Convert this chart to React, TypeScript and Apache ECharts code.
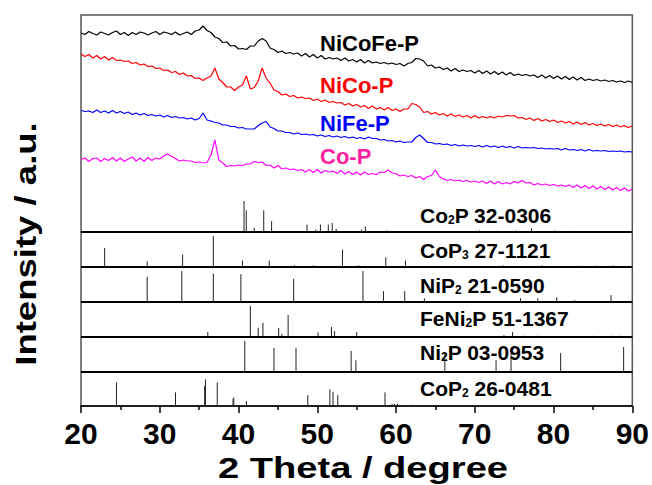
import React, { useEffect, useRef } from 'react';
import * as echarts from 'echarts';

const FONT = "'Liberation Sans', Arial, Helvetica, sans-serif";

// 2θ sampling grid (degrees) for the measured patterns
const theta: number[] = [];
for (let i = 0; i <= 140; i++) theta.push(20 + i * 0.5);

// Measured patterns (intensity a.u., already offset for stacking)
const nicofeP = [
  373, 371.5, 374.5, 372.5, 371, 374, 372.5, 371, 373.5, 375,
  371.5, 373.5, 370.5, 373.5, 371.5, 374, 373, 371, 373, 374.5,
  371.5, 374, 373, 371.5, 374, 371, 372.5, 374, 371.5, 375,
  376, 380, 375.5, 373.5, 369, 367.5, 363.5, 364, 360, 360.5,
  357, 357.5, 356.5, 360, 360, 365, 367.5, 365, 358, 356.5,
  353.5, 355, 352.5, 353.5, 352, 353, 350, 352.5, 349, 351.5,
  348, 350.5, 347, 348.5, 347, 348, 345.5, 348, 345, 346.5,
  344, 346.5, 343, 345.5, 343, 344, 342.5, 343.5, 342, 343,
  341.5, 342.5, 340, 342.5, 343.5, 347.5, 347, 345, 340, 341,
  338, 339, 336.5, 338, 335, 337.5, 334.5, 336, 334.5, 335.5,
  333, 335.5, 332.5, 335, 332, 334.5, 331.5, 334, 331, 333.5,
  330.5, 332, 330.5, 331.5, 330, 331, 328.5, 331, 328, 330.5,
  327.5, 330, 327, 329.5, 326.5, 329, 326, 328.5, 325.5, 327,
  325.5, 326.5, 325, 326, 324.5, 325.5, 324, 325, 323.5, 325,
  323.5,
];
const nicoP = [
  352, 349.5, 351.5, 348, 350.5, 347, 349.5, 346, 348.5, 345.5,
  346, 344.5, 345, 342.5, 343.5, 341, 342, 339.5, 340, 337.5,
  338, 335.5, 336, 333.5, 334.5, 331.5, 333, 330, 330.5, 327.5,
  328, 325.5, 328, 330, 338, 327, 323.5, 319, 319, 315.5,
  319, 321, 330, 317, 318.5, 325, 338, 328, 323, 316,
  314.5, 311, 312, 309.5, 310.5, 308, 309, 307.5, 308, 305.5,
  307, 304.5, 306, 303.5, 304.5, 303, 303.5, 301, 302.5, 300,
  301.5, 299, 300.5, 297.5, 300, 297, 298.5, 296, 298.5, 295.5,
  297, 294.5, 297, 297, 302.5, 301.5, 299, 293.5, 294.5, 292,
  293.5, 291, 292.5, 290, 292, 289.5, 291, 289, 290.5, 288,
  290.5, 288, 289.5, 288, 289.5, 288, 290, 289, 290.5, 290,
  290.5, 288, 288.5, 286.5, 288, 285.5, 287.5, 285, 286.5, 284.5,
  286, 283.5, 285, 283, 284.5, 282, 284, 281.5, 283.5, 281,
  282.5, 280.5, 282, 280, 281.5, 279.5, 281, 279, 280.5, 278.5,
  280,
];
const nifeP = [
  295.5, 294.5, 295, 293.5, 296, 293.5, 295, 293, 295.5, 293,
  294.5, 292.5, 294, 291.5, 293, 291, 292.5, 290.5, 291.5, 290,
  291, 289, 290.5, 288.5, 289.5, 288, 288.5, 287, 288, 286,
  287.5, 293, 286, 285, 283.5, 283, 281, 281, 279.5, 279.5,
  278, 278.5, 277, 277, 277, 280.5, 283, 284.5, 279, 277.5,
  275, 275, 273.5, 273.5, 272, 273, 271.5, 272, 271, 271.5,
  270, 271, 269.5, 270.5, 269, 270, 268.5, 269.5, 268, 269,
  267.5, 268.5, 267, 269, 267.5, 267.5, 266, 266.5, 265, 265.5,
  264, 265, 263.5, 264, 264, 268.5, 271, 267.5, 263.5, 263.5,
  262, 262.5, 261.5, 262, 260.5, 261.5, 260, 261, 260, 260.5,
  259.5, 260.5, 259, 260.5, 259, 260, 258.5, 260, 258.5, 259.5,
  258, 259.5, 258, 258.5, 258, 258.5, 257.5, 258, 257, 257.5,
  257, 257.5, 256, 257.5, 256, 256.5, 255.5, 256.5, 255, 256.5,
  255, 255.5, 255, 255.5, 254.5, 255, 254.5, 255, 254, 254.5,
  254,
];
const coP = [
  246.5, 248, 244.5, 247.5, 248, 244.5, 247.5, 245.5, 248.5, 245,
  248, 244.5, 247, 249, 245, 248, 244.5, 248.5, 245.5, 248,
  247, 250, 252, 249.5, 247.5, 245, 246, 245, 245, 243.5,
  244, 243, 243.5, 251, 266, 246, 243, 239.5, 240.5, 240,
  241, 240.5, 242, 242, 244.5, 243.5, 244, 240.5, 241, 238,
  240.5, 237, 238, 236.5, 237, 235.5, 236.5, 234, 236.5, 233.5,
  236.5, 233, 235.5, 234, 235, 232.5, 235.5, 232, 234.5, 231.5,
  234, 231, 234, 231.5, 232.5, 231.5, 234, 233.5, 236, 233,
  232.5, 230, 231, 229.5, 230.5, 228, 229.5, 226.5, 229.5, 230.5,
  236, 229.5, 227, 225.5, 226.5, 225, 226, 224.5, 225.5, 224,
  225, 223.5, 225, 222.5, 225, 222, 224.5, 222, 223.5, 222,
  224.5, 223, 225.5, 223, 223.5, 221, 222.5, 221, 222, 220.5,
  221.5, 220, 221, 219.5, 221, 218.5, 221, 218, 220.5, 217.5,
  220, 217, 219.5, 216.5, 219, 216, 218.5, 215.5, 218, 215,
  217,
];

const sampleNames = ['NiCoFe-P', 'NiCo-P', 'NiFe-P', 'Co-P'];
const sampleData = [nicofeP, nicoP, nifeP, coP];
const sampleColors = ['#000000', '#ff0000', '#0000ff', '#ff00ff'];
const sampleLabelColors = ['#000000', '#ff0000', '#0000ff', '#ff1fa0'];

// Reference stick patterns: [2θ, relative intensity %]
const co2p = [
  [31.7, 3], [32.9, 3], [40.7, 100], [40.98, 70], [42.0, 13], [43.2, 70], [44.2, 35],
  [48.7, 24], [49.8, 8], [50.4, 24], [51.4, 24], [51.9, 29], [52.4, 10], [55.6, 8],
  [56.1, 18], [58.8, 5], [70.6, 5], [72.8, 4], [75.2, 5], [77.2, 12], [80.2, 5], [82.2, 4],
];
const cop3 = [
  [23.0, 61], [28.4, 18], [32.9, 40], [36.8, 100], [40.5, 21], [43.9, 21], [47.1, 6],
  [49.5, 5], [53.2, 56], [55.3, 5], [58.7, 31], [61.2, 21], [73.6, 5], [78.5, 5],
  [83.2, 4], [85.3, 4], [87.6, 5],
];
const nip2 = [
  [28.4, 81], [32.8, 100], [36.8, 92], [40.3, 90], [47.0, 75], [55.8, 100], [58.4, 35],
  [61.1, 35], [63.6, 12], [75.8, 12], [78.0, 12], [80.4, 15], [82.7, 6], [87.3, 22],
];
const feni2p = [
  [29.9, 3], [36.1, 16], [39.9, 3], [41.5, 100], [42.5, 30], [43.1, 46], [45.1, 29],
  [45.5, 10], [46.3, 71], [50.1, 15], [51.8, 32], [52.2, 19], [55.0, 16], [57.5, 3],
  [59.2, 3], [73.7, 6], [74.8, 16], [76.3, 4], [78.0, 4], [84.9, 4], [87.3, 4], [88.5, 4],
];
const ni2p = [
  [40.8, 100], [44.5, 78], [47.3, 78], [54.3, 68], [54.9, 38], [66.2, 61], [72.7, 38],
  [74.6, 61], [80.9, 61], [88.9, 81],
];
const cop2 = [
  [24.5, 76], [32.0, 44], [35.7, 65], [35.8, 86], [37.3, 76], [39.3, 23], [39.4, 28],
  [41.0, 16], [48.8, 35], [51.6, 54], [52.0, 46], [52.6, 35], [58.6, 44], [59.5, 7],
  [59.8, 7], [60.2, 8], [61.9, 4], [63.2, 3],
];
const phaseData = [co2p, cop3, nip2, feni2p, ni2p, cop2];
const phaseLabels = [
  '{a|Co}{s|2}{a|P 32-0306}',
  '{a|CoP}{s|3}{a| 27-1121}',
  '{a|NiP}{s|2}{a| 21-0590}',
  '{a|FeNi}{s|2}{a|P 51-1367}',
  '{a|Ni}{s|2}{a|P 03-0953}',
  '{a|CoP}{s|2}{a| 26-0481}',
];
// baseline of each reference panel (same a.u. scale as the y axis)
const panelBase = [174, 139, 104, 69, 34, 0];
const stickScale = 0.31;

const xTicks = { min: 20, max: 90, interval: 10 };

function buildOption() {
  const lineSeries = sampleData.map((arr, k) => ({
    type: 'line',
    name: sampleNames[k],
    data: theta.map((t, i) => [t, arr[i]]),
    showSymbol: false,
    symbol: 'none',
    lineStyle: { color: sampleColors[k], width: 1.2 },
    itemStyle: { color: sampleColors[k] },
    z: 3,
    ...(k === 0
      ? {
          markLine: {
            silent: true,
            symbol: 'none',
            label: { show: false },
            lineStyle: { color: '#000', width: 2, type: 'solid' },
            data: panelBase.slice(0, 5).map((b) => ({ yAxis: b })),
          },
        }
      : {}),
  }));

  const stickSeries = phaseData.map((arr, k) => ({
    type: 'custom',
    data: arr,
    encode: { x: 0, y: 1 },
    z: 4,
    renderItem: (params: any, api: any) => {
      const x = api.value(0);
      const h = api.value(1);
      const base = panelBase[k];
      const p0 = api.coord([x, base]);
      const p1 = api.coord([x, base + h * stickScale]);
      return {
        type: 'line',
        shape: { x1: p0[0], y1: p0[1], x2: p1[0], y2: p1[1] },
        style: { stroke: '#222', lineWidth: 1 },
      };
    },
  }));

  const curveLabelY = [43.5, 85, 123, 156];
  const phaseLabelY = [215, 250, 285, 318, 352, 388];

  const graphic: any[] = [];
  sampleNames.forEach((n, k) => {
    graphic.push({
      type: 'text',
      x: 320,
      y: curveLabelY[k],
      z: 10,
      style: {
        text: n,
        fill: sampleLabelColors[k],
        font: `bold 22px ${FONT}`,
        align: 'left',
        verticalAlign: 'middle',
        textAlign: 'left',
        textVerticalAlign: 'middle',
      },
    });
  });
  phaseLabels.forEach((t, k) => {
    graphic.push({
      type: 'text',
      x: 420,
      y: phaseLabelY[k],
      z: 10,
      style: {
        text: t,
        fill: '#000',
        align: 'left',
        verticalAlign: 'middle',
        textAlign: 'left',
        textVerticalAlign: 'middle',
        rich: {
          a: { fontSize: 21, fontWeight: 'bold', fontFamily: FONT, fill: '#000', color: '#000' },
          s: { fontSize: 12, fontWeight: 'bold', fontFamily: FONT, fill: '#000', color: '#000', verticalAlign: 'bottom' },
        },
      },
    });
  });
  graphic.push({
    type: 'text',
    x: 363,
    y: 468,
    scaleX: 1.27,
    style: {
      text: '2 Theta / degree',
      fill: '#000',
      font: `bold 30px ${FONT}`,
      align: 'center',
      verticalAlign: 'middle',
      textAlign: 'center',
      textVerticalAlign: 'middle',
    },
  });
  graphic.push({
    type: 'text',
    x: 26,
    y: 244,
    rotation: Math.PI / 2,
    scaleX: 1.26,
    style: {
      text: 'Intensity / a.u.',
      fill: '#000',
      font: `bold 29px ${FONT}`,
      align: 'center',
      verticalAlign: 'middle',
      textAlign: 'center',
      textVerticalAlign: 'middle',
    },
  });

  return {
    animation: false,
    backgroundColor: '#ffffff',
    grid: { left: 81, right: 19, top: 15, bottom: 79, show: true, borderColor: '#555', borderWidth: 1.5, backgroundColor: 'transparent' },
    xAxis: {
      type: 'value',
      min: xTicks.min,
      max: xTicks.max,
      interval: xTicks.interval,
      axisLine: { show: true, onZero: false, lineStyle: { color: '#000', width: 1.5 } },
      axisTick: { show: true, length: 7, lineStyle: { color: '#000', width: 1.5 } },
      minorTick: { show: true, splitNumber: 2, length: 4, lineStyle: { color: '#000', width: 1.5 } },
      splitLine: { show: false },
      axisLabel: { fontSize: 30, fontWeight: 'bold', fontFamily: FONT, color: '#000', margin: 12 },
    },
    yAxis: { type: 'value', min: 0, max: 391, show: false, splitLine: { show: false } },
    series: [...lineSeries, ...stickSeries],
    graphic,
  };
}

export default function App() {
  const ref = useRef<HTMLDivElement>(null);
  useEffect(() => {
    if (!ref.current) return;
    const chart = echarts.init(ref.current, null, { renderer: 'svg' });
    chart.setOption(buildOption() as any);
    return () => chart.dispose();
  }, []);
  return <div ref={ref} style={{ position: 'fixed', left: 0, top: 0, width: 652, height: 485 }} />;
}
